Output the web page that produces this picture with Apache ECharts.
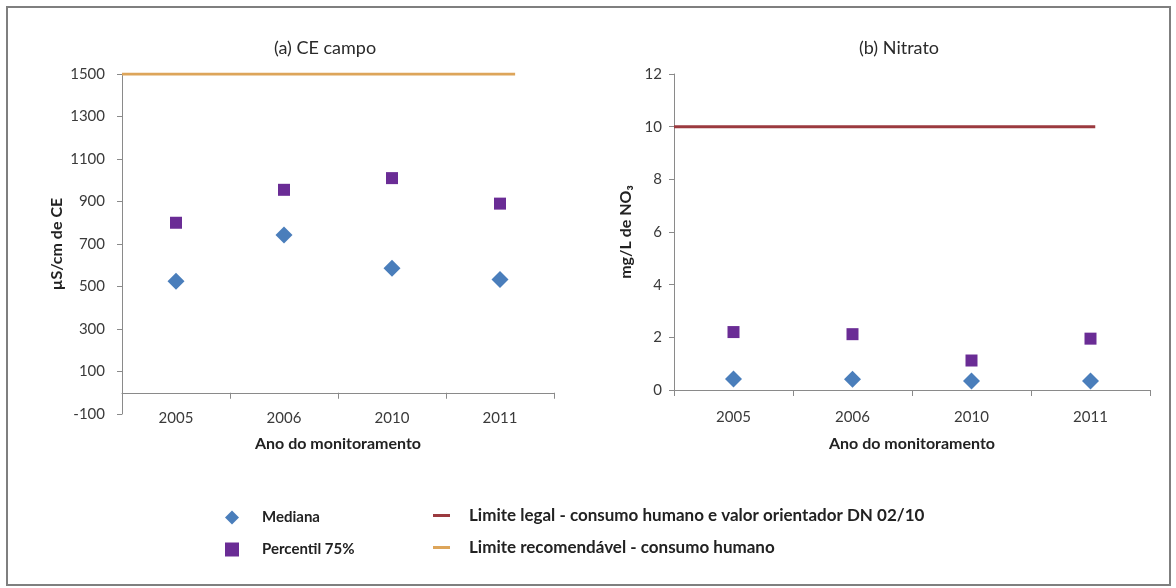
<!DOCTYPE html>
<html>
<head>
<meta charset="utf-8">
<script src="https://cdn.jsdelivr.net/npm/echarts@6/dist/echarts.min.js"></script>
<style>
  html, body { margin: 0; padding: 0; background: #fff; }
  #chart { width: 1176px; height: 588px; }
</style>
</head>
<body>
<div id="chart"></div>
<script>
// Monitoring years (categories shared by both panels)
const years = ['2005', '2006', '2010', '2011'];

// (a) Field electrical conductivity, µS/cm
const ceMediana = [525, 742, 586, 533];
const cePercentil75 = [800, 955, 1010, 890];
const ceLimiteRecomendavel = 1500;

// (b) Nitrate, mg/L NO3
const no3Mediana = [0.42, 0.41, 0.34, 0.34];
const no3Percentil75 = [2.2, 2.12, 1.12, 1.95];
const no3LimiteLegal = 10;

// Extent of the reference lines along the category band (index units)
const ceLineSpan = [-0.5, 3.14];
const no3LineSpan = [-0.5, 3.04];

const FONT = 'Lato, "Open Sans", sans-serif';
const AXIS_GRAY = '#8a8a8a';
const TEXT = '#3a3a3a';
const BLUE = '#4A7EBB';
const PURPLE = '#6A2C95';
const ORANGE = '#DDA55A';
const RED = '#9B3A3F';

function catAxis(gridIndex, margin, nameGap) {
  return {
    type: 'category', gridIndex, data: years,
    boundaryGap: true,
    name: 'Ano do monitoramento', nameLocation: 'middle', nameGap,
    nameTextStyle: { fontFamily: FONT, fontWeight: 'bold', fontSize: 16, color: '#222' },
    axisLine: { onZero: true, lineStyle: { color: AXIS_GRAY, width: 1 } },
    axisTick: { show: true, alignWithLabel: false, length: 6, inside: false, lineStyle: { color: AXIS_GRAY } },
    axisLabel: { fontFamily: FONT, fontSize: 15, color: TEXT, margin },
    splitLine: { show: false }
  };
}
function spanAxis(gridIndex) {
  return { type: 'value', gridIndex, min: -0.5, max: 3.5, show: false };
}
function valAxis(gridIndex, min, max, interval, name, nameGap, labelMargin) {
  return {
    type: 'value', gridIndex, min, max, interval,
    name, nameLocation: 'middle', nameGap,
    nameTextStyle: { fontFamily: FONT, fontWeight: 'bold', fontSize: 16, color: '#222' },
    axisLine: { show: true, onZero: false, lineStyle: { color: AXIS_GRAY } },
    axisTick: { show: true, length: 5, lineStyle: { color: AXIS_GRAY } },
    axisLabel: { fontFamily: FONT, fontSize: 15, color: TEXT, margin: labelMargin,
                 formatter: v => String(v) },
    splitLine: { show: false }
  };
}

const markerStyle = color => ({ color, opacity: 1 });

const option = {
  animation: false,
  backgroundColor: '#fff',
  title: [
    { text: '(a) CE campo', left: 320, top: 34, textAlign: 'center',
      textStyle: { fontFamily: FONT, fontWeight: 'normal', fontSize: 18, color: '#2a2a2a' } },
    { text: '(b) Nitrato', left: 894, top: 34, textAlign: 'center',
      textStyle: { fontFamily: FONT, fontWeight: 'normal', fontSize: 18, color: '#2a2a2a' } }
  ],
  grid: [
    { left: 122, top: 74, width: 432, height: 340 },
    { left: 674, top: 74, width: 476, height: 316 }
  ],
  xAxis: [catAxis(0, -3, 22), catAxis(1, 20, 46), spanAxis(0), spanAxis(1)],
  yAxis: [
    valAxis(0, -100, 1500, 200, 'µS/cm de CE', 57, 17),
    valAxis(1, 0, 12, 2, 'mg/L de NO₃', 40, 12)
  ],
  legend: [
    { orient: 'vertical', left: 220, top: 505, itemGap: 17, itemWidth: 14, itemHeight: 14,
      textStyle: { fontFamily: FONT, fontWeight: 'bold', fontSize: 15, color: '#222', padding: [0, 0, 0, 18] },
      data: [{ name: 'Mediana', icon: 'diamond' }, { name: 'Percentil 75%', icon: 'rect' }] },
    { orient: 'vertical', left: 428, top: 502, itemGap: 15, itemWidth: 17, itemHeight: 3,
      textStyle: { fontFamily: FONT, fontWeight: 'bold', fontSize: 17, color: '#222', padding: [0, 0, 0, 14] },
      data: [{ name: 'Limite legal - consumo humano e valor orientador DN 02/10', icon: 'rect' },
             { name: 'Limite recomendável - consumo humano', icon: 'rect' }] }
  ],
  graphic: [
    { type: 'rect', shape: { x: 7, y: 7, width: 1163, height: 578 },
      style: { fill: 'none', stroke: '#7f7f7f', lineWidth: 2 }, silent: true }
  ],
  series: [
    { name: 'Limite recomendável - consumo humano', type: 'line', xAxisIndex: 2, yAxisIndex: 0,
      data: ceLineSpan.map(x => [x, ceLimiteRecomendavel]), symbol: 'none',
      lineStyle: { color: ORANGE, width: 3 }, itemStyle: { color: ORANGE } },
    { name: 'Mediana', type: 'scatter', xAxisIndex: 0, yAxisIndex: 0, data: ceMediana,
      symbol: 'diamond', symbolSize: [17, 17], itemStyle: markerStyle(BLUE) },
    { name: 'Percentil 75%', type: 'scatter', xAxisIndex: 0, yAxisIndex: 0, data: cePercentil75,
      symbol: 'rect', symbolSize: 12, itemStyle: markerStyle(PURPLE) },
    { name: 'Limite legal - consumo humano e valor orientador DN 02/10', type: 'line', xAxisIndex: 3, yAxisIndex: 1,
      data: no3LineSpan.map(x => [x, no3LimiteLegal]), symbol: 'none',
      lineStyle: { color: RED, width: 3 }, itemStyle: { color: RED } },
    { name: 'Mediana', type: 'scatter', xAxisIndex: 1, yAxisIndex: 1, data: no3Mediana,
      symbol: 'diamond', symbolSize: [17, 17], itemStyle: markerStyle(BLUE) },
    { name: 'Percentil 75%', type: 'scatter', xAxisIndex: 1, yAxisIndex: 1, data: no3Percentil75,
      symbol: 'rect', symbolSize: 12, itemStyle: markerStyle(PURPLE) }
  ]
};

echarts.init(document.getElementById('chart'), null, { renderer: 'canvas' }).setOption(option);
</script>
</body>
</html>
